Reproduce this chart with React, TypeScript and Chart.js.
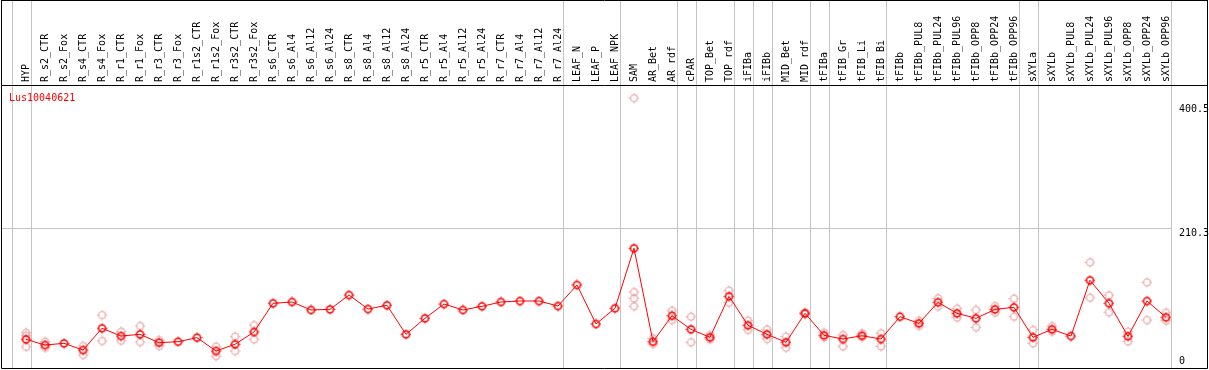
import { useEffect, useRef } from "react";
import { Chart, registerables } from "chart.js";

Chart.register(...registerables);

const geneName = "Lus10040621";

const categories = [
  "HYP", "R_s2_CTR", "R_s2_Fox", "R_s4_CTR", "R_s4_Fox", "R_r1_CTR", "R_r1_Fox",
  "R_r3_CTR", "R_r3_Fox", "R_r1s2_CTR", "R_r1s2_Fox", "R_r3s2_CTR", "R_r3s2_Fox",
  "R_s6_CTR", "R_s6_Al4", "R_s6_Al12", "R_s6_Al24", "R_s8_CTR", "R_s8_Al4",
  "R_s8_Al12", "R_s8_Al24", "R_r5_CTR", "R_r5_Al4", "R_r5_Al12", "R_r5_Al24",
  "R_r7_CTR", "R_r7_Al4", "R_r7_Al12", "R_r7_Al24", "LEAF_N", "LEAF_P", "LEAF_NPK",
  "SAM", "AR_Bet", "AR_rdf", "cPAR", "TOP_Bet", "TOP_rdf", "iFIBa", "iFIBb",
  "MID_Bet", "MID_rdf", "tFIBa", "tFIB_Gr", "tFIB_Li", "tFIB_Bi", "tFIBb",
  "tFIBb_PUL8", "tFIBb_PUL24", "tFIBb_PUL96", "tFIBb_OPP8", "tFIBb_OPP24",
  "tFIBb_OPP96", "sXYLa", "sXYLb", "sXYLb_PUL8", "sXYLb_PUL24", "sXYLb_PUL96",
  "sXYLb_OPP8", "sXYLb_OPP24", "sXYLb_OPP96",
];

const meanValues = [
  39.4, 30.7, 33.3, 23, 56.4, 44.5, 47.1, 34.3, 35.8, 42, 21.5, 31.8, 50.7,
  94.8, 96.8, 84.5, 85.5, 107.5, 86, 91.7, 47.1, 71.7, 93.7, 84.5, 90.2,
  96.8, 98.3, 98.3, 90.6, 122.9, 63, 87.1,
  179.3, 35.8, 75.7, 54.8, 42.5, 105.5, 61, 47.1, 34.9, 79.4, 45.6, 39.9, 45, 39.9, 74.2,
  64, 96.3, 79.4, 71.7, 85.5, 88.6, 42.5, 54.8, 44.5, 130.1, 94.8, 44.1, 98.3, 73.3,
];

const replicates: number[][] = [
  [49.6, 45, 28.1], [35.8, 26.6], [], [29.2, 15.4], [76.8, 36.9], [51.2, 37.3],
  [59.9, 35.3], [38.4, 29.2], [], [], [28.1, 13.8], [43.5, 21.5], [61.4, 39.4],
  [], [], [], [], [], [], [], [], [], [], [], [], [], [], [], [], [], [], [],
  [410, 112.1, 102.4, 90.2], [41, 32.3], [83.4, 69.1], [74.2, 34.9], [46, 39.4],
  [114.1, 95.7], [68, 53.8], [54.8, 39.9], [43.5, 26.6], [81, 78], [49.6, 42.5],
  [46.1, 28.7], [48.7, 43], [48.7, 28.7], [],
  [68, 60], [102.4, 89.6], [86.5, 72.7], [84.5, 57.9], [90.6, 80.3], [101.8, 74.2],
  [53.8, 33.3], [59.9, 51.2], [], [157.8, 103.4], [107, 81], [51.2, 36.4],
  [127, 69.1], [80.3, 68],
];

// last category index of each group (-1 = before the first one)
const groupEnds = [-1, 0, 28, 31, 34, 35, 37, 38, 39, 41, 42, 45, 52, 53, 60];

const yTickValues = [0, 210.3, 400.5];
const yTickLabels = ["0", "210.3", "400.5"];
const yGridValues = [210.3];

const FONT = '10px "DejaVu Sans Mono"';

function makeMarker(color: string, width: number): HTMLCanvasElement {
  const c = document.createElement("canvas");
  c.width = 11;
  c.height = 11;
  const g = c.getContext("2d")!;
  g.strokeStyle = color;
  g.lineWidth = width;
  g.beginPath();
  g.arc(5.5, 5.5, 3.5, 0, Math.PI * 2);
  g.stroke();
  g.lineWidth = 1;
  g.beginPath();
  g.moveTo(5.5, 0.5); g.lineTo(5.5, 2);
  g.moveTo(5.5, 9); g.lineTo(5.5, 10.5);
  g.moveTo(0.5, 5.5); g.lineTo(2, 5.5);
  g.moveTo(9, 5.5); g.lineTo(10.5, 5.5);
  g.stroke();
  return c;
}

const framePlugin = {
  id: "framePlugin",
  beforeDatasetsDraw(chart: any) {
    const { ctx, chartArea, scales } = chart;
    const xs = scales.x;
    const ys = scales.y;
    ctx.save();
    ctx.lineWidth = 1;
    // group separators
    ctx.strokeStyle = "#c4c4c4";
    groupEnds.forEach((i) => {
      const px = Math.round(xs.getPixelForValue(i)) + 5 + 0.5;
      ctx.beginPath();
      ctx.moveTo(px, 0);
      ctx.lineTo(px, chartArea.bottom);
      ctx.stroke();
    });
    const lastPx = Math.round(xs.getPixelForValue(categories.length - 1)) + 5;
    yGridValues.forEach((v) => {
      const gy = Math.round(ys.getPixelForValue(v)) + 0.5;
      ctx.beginPath();
      ctx.moveTo(chartArea.left, gy);
      ctx.lineTo(lastPx, gy);
      ctx.stroke();
    });
    // frame
    ctx.strokeStyle = "#000";
    const L = chartArea.left - 0.5;
    const R = chartArea.right + 0.5;
    const B = chartArea.bottom + 0.5;
    const T = chartArea.top + 0.5;
    ctx.beginPath();
    ctx.moveTo(L, 0.5); ctx.lineTo(R, 0.5);
    ctx.moveTo(L, 0); ctx.lineTo(L, B);
    ctx.moveTo(R, 0); ctx.lineTo(R, B);
    ctx.moveTo(L, B); ctx.lineTo(R, B);
    ctx.moveTo(L, T); ctx.lineTo(R, T);
    ctx.stroke();
    // gene name
    ctx.font = FONT;
    ctx.fillStyle = "#ff0000";
    ctx.textAlign = "left";
    ctx.textBaseline = "top";
    ctx.fillText(geneName, chartArea.left + 7, chartArea.top + 8);
    // right-hand value labels
    ctx.fillStyle = "#000";
    yTickValues.forEach((v, k) => {
      const py = ys.getPixelForValue(v);
      ctx.textBaseline = v === 0 ? "bottom" : "top";
      ctx.fillText(yTickLabels[k], lastPx + 8, v === 0 ? py + 1 : py);
    });
    ctx.restore();
  },
};

export default function App() {
  const ref = useRef<HTMLCanvasElement>(null);
  useEffect(() => {
    document.body.style.margin = "0";
    const canvas = ref.current!;
    const meanMarker = makeMarker("#ff0000", 1.6);
    const repMarker = makeMarker("#eb9c9c", 1.1);
    const meanPoints = meanValues.map((v, i) => ({ x: i, y: v }));
    const repPoints: { x: number; y: number }[] = [];
    replicates.forEach((arr, i) => arr.forEach((v) => repPoints.push({ x: i, y: v })));
    const chart = new Chart(canvas, {
      type: "line",
      data: {
        datasets: [
          {
            data: meanPoints,
            borderColor: "#ff0000",
            borderWidth: 1,
            pointStyle: meanMarker as any,
            pointRadius: 4,
            tension: 0,
          },
          {
            data: repPoints,
            showLine: false,
            borderColor: "#eb9c9c",
            pointStyle: repMarker as any,
            pointRadius: 4,
          },
        ],
      },
      options: {
        animation: false,
        responsive: false,
        devicePixelRatio: 1,
        layout: { autoPadding: false, padding: { left: 2, right: 2, bottom: 2, top: 0 } },
        plugins: { legend: { display: false }, tooltip: { enabled: false } },
        events: [],
        scales: {
          x: {
            type: "linear",
            position: "top",
            min: -1.2632,
            max: 62.158,
            afterBuildTicks: (scale: any) => {
              scale.ticks = categories.map((_, i) => ({ value: i }));
            },
            afterFit: (scale: any) => {
              scale.height = 85;
              scale.paddingLeft = 0;
              scale.paddingRight = 0;
            },
            ticks: {
              autoSkip: false,
              minRotation: 90,
              maxRotation: 90,
              padding: 3,
              labelOffset: 12,
              color: "#000",
              font: { family: "DejaVu Sans Mono", size: 10 },
              callback: (v: any) => categories[v as number] ?? "",
            },
            grid: { display: false, drawTicks: false },
            border: { display: false },
          },
          y: {
            display: false,
            min: -4.6,
            max: 430.1,
          },
        },
      },
      plugins: [framePlugin],
    });
    return () => chart.destroy();
  }, []);
  return (
    <div style={{ width: 1209, height: 370 }}>
      <canvas ref={ref} width={1209} height={370} style={{ display: "block" }} />
    </div>
  );
}
